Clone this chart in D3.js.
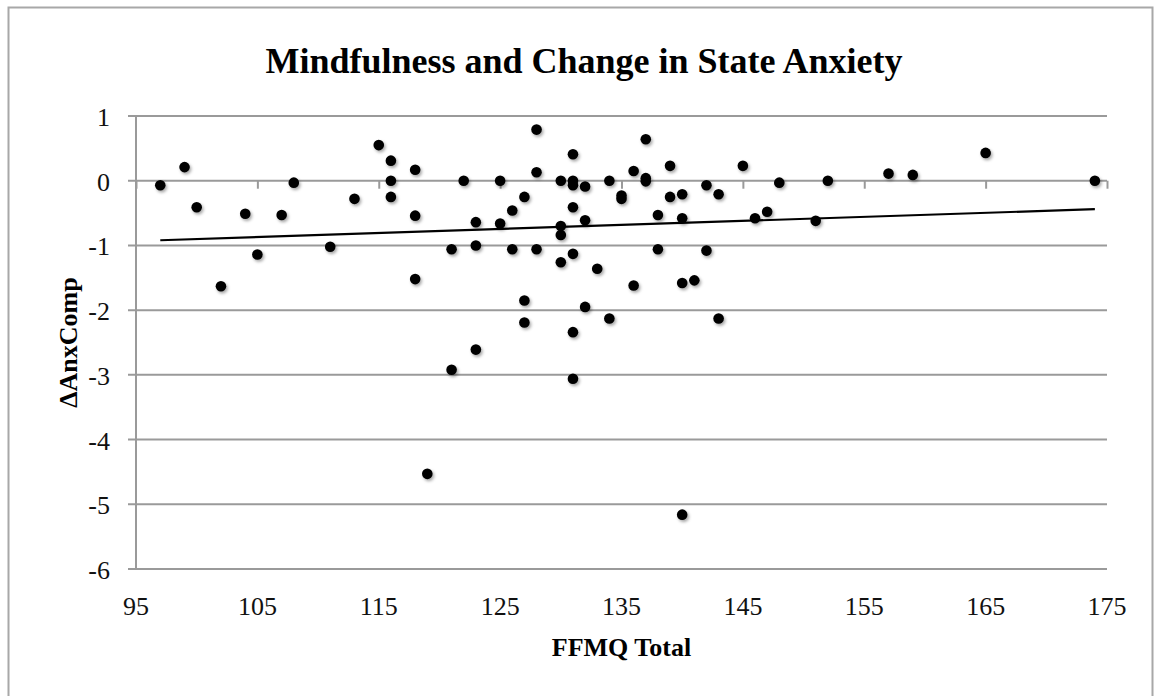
<!DOCTYPE html>
<html>
<head>
<meta charset="utf-8">
<script src="https://cdn.jsdelivr.net/npm/d3@7"></script>
<style>
    body { margin: 0; background: #fff; }
    svg { display: block; }
</style>
</head>
<body>
<div id="chart"></div>
<script>
// FFMQ total score per participant
const ffmqTotal = [97, 99, 100, 102, 104, 105, 107, 108, 111, 113,
    115, 116, 116, 116, 118, 118, 118, 119, 121, 121,
    122, 123, 123, 123, 125, 125, 126, 126, 127, 127,
    127, 128, 128, 128, 130, 130, 130, 130, 131, 131,
    131, 131, 131, 131, 131, 132, 132, 132, 133, 134,
    134, 135, 135, 136, 136, 137, 137, 137, 138, 138,
    139, 139, 140, 140, 140, 140, 141, 142, 142, 143,
    143, 145, 146, 147, 148, 151, 152, 157, 159, 165, 174];
// change in state anxiety composite
const anxChange = [-0.07, 0.21, -0.41, -1.63, -0.51, -1.14, -0.53, -0.03, -1.02, -0.28,
    0.55, 0.31, 0.0, -0.25, 0.17, -0.54, -1.52, -4.53, -1.06, -2.92,
    0.0, -0.64, -1.0, -2.61, 0.0, -0.66, -0.46, -1.06, -0.25, -1.85,
    -2.19, 0.79, 0.13, -1.06, 0.0, -0.70, -0.84, -1.26, 0.41, 0.0,
    -0.07, -0.41, -1.13, -2.34, -3.06, -0.09, -0.61, -1.95, -1.36, 0.0,
    -2.13, -0.23, -0.28, 0.15, -1.62, 0.64, 0.04, -0.01, -0.53, -1.06,
    0.23, -0.25, -0.21, -0.58, -1.58, -5.16, -1.54, -0.07, -1.08, -0.21,
    -2.13, 0.23, -0.58, -0.48, -0.03, -0.62, 0.0, 0.11, 0.09, 0.43, 0.0];

// linear trendline end points
const trendX = [97, 174];
const trendY = [-0.92, -0.44];

const xTicks = [95, 105, 115, 125, 135, 145, 155, 165, 175];
const yTicks = [1, 0, -1, -2, -3, -4, -5, -6];

const W = 1160, H = 696;
const plot = {left: 136, right: 1107, top: 116, bottom: 569};
const gridColor = "#9a9a9a";
const serif = "'Liberation Serif', 'Times New Roman', serif";

const svg = d3.select("#chart").append("svg")
    .attr("width", W)
    .attr("height", H);

// drop shadow for the markers
const defs = svg.append("defs");
defs.append("filter")
    .attr("id", "shadow")
    .attr("x", "-50%").attr("y", "-50%")
    .attr("width", "200%").attr("height", "200%")
    .append("feDropShadow")
    .attr("dx", 1.5).attr("dy", 2)
    .attr("stdDeviation", 1.6)
    .attr("flood-color", "#000")
    .attr("flood-opacity", 0.35);

// chart border
svg.append("path")
    .attr("d", "M8.5," + (H + 5) + "V7.5H1152.5V" + (H + 5))
    .attr("fill", "none")
    .attr("stroke", "#a8a8a8")
    .attr("stroke-width", 2);

const x = d3.scaleLinear().domain([95, 175]).range([plot.left, plot.right]);
const y = d3.scaleLinear().domain([-6, 1]).range([plot.bottom, plot.top]);

// horizontal gridlines
svg.append("g")
    .selectAll("line")
    .data(yTicks)
    .enter()
    .append("line")
    .attr("x1", plot.left - 8)
    .attr("x2", plot.right)
    .attr("y1", d => y(d))
    .attr("y2", d => y(d))
    .attr("stroke", gridColor)
    .attr("stroke-width", 2);

// y axis line
svg.append("line")
    .attr("x1", plot.left).attr("x2", plot.left)
    .attr("y1", plot.top).attr("y2", plot.bottom)
    .attr("stroke", gridColor)
    .attr("stroke-width", 2);

// x axis sits on y = 0, ticks point down
const xAxis = svg.append("g")
    .attr("transform", "translate(0," + y(0) + ")")
    .call(d3.axisBottom(x).tickValues(xTicks).tickSize(8).tickFormat(""));
xAxis.select(".domain").remove();
xAxis.selectAll(".tick line")
    .attr("stroke", gridColor)
    .attr("stroke-width", 2);

// x tick labels under the plot
svg.append("g")
    .selectAll("text")
    .data(xTicks)
    .enter()
    .append("text")
    .attr("x", d => x(d))
    .attr("y", plot.bottom + 46)
    .attr("text-anchor", "middle")
    .style("font-family", serif)
    .style("font-size", "26px")
    .style("fill", "#111")
    .text(d => d);

// y tick labels
svg.append("g")
    .selectAll("text")
    .data(yTicks)
    .enter()
    .append("text")
    .attr("x", plot.left - 26)
    .attr("y", d => y(d) + 10)
    .attr("text-anchor", "end")
    .style("font-family", serif)
    .style("font-size", "26px")
    .style("fill", "#111")
    .text(d => d);

// trendline
svg.append("line")
    .attr("x1", x(trendX[0])).attr("y1", y(trendY[0]))
    .attr("x2", x(trendX[1])).attr("y2", y(trendY[1]))
    .attr("stroke", "#000")
    .attr("stroke-width", 2.2);

// points
const points = ffmqTotal.map((v, i) => ({ffmq: v, anx: anxChange[i]}));
svg.append("g")
    .attr("filter", "url(#shadow)")
    .selectAll("circle")
    .data(points)
    .enter()
    .append("circle")
    .attr("cx", d => x(d.ffmq))
    .attr("cy", d => y(d.anx))
    .attr("r", 5.3)
    .style("fill", "#000");

// title
svg.append("text")
    .attr("x", 584)
    .attr("y", 73)
    .attr("text-anchor", "middle")
    .style("font-family", serif)
    .style("font-weight", "bold")
    .style("font-size", "36px")
    .text("Mindfulness and Change in State Anxiety");

// x axis title
svg.append("text")
    .attr("x", (plot.left + plot.right) / 2)
    .attr("y", 656)
    .attr("text-anchor", "middle")
    .style("font-family", serif)
    .style("font-weight", "bold")
    .style("font-size", "26px")
    .text("FFMQ Total");

// y axis title
svg.append("text")
    .attr("transform", "translate(77," + ((plot.top + plot.bottom) / 2) + ") rotate(-90)")
    .attr("text-anchor", "middle")
    .style("font-family", serif)
    .style("font-weight", "bold")
    .style("font-size", "26px")
    .text("ΔAnxComp");
</script>
</body>
</html>
